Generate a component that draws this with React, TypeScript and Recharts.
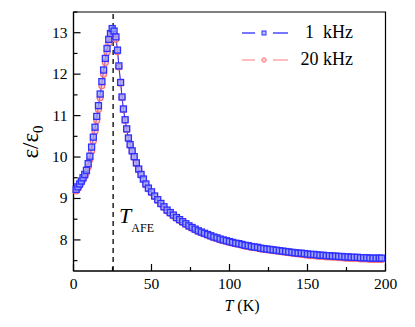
import React from 'react'
import {
  LineChart,
  Line,
  XAxis,
  YAxis,
  ReferenceLine,
  ReferenceArea,
} from 'recharts'

// temperature (K), shared by both frequencies
const temps = [
  1.7, 2.8, 3.9, 5.0, 6.1, 7.2, 8.3, 9.4, 10.5, 11.6, 12.7, 13.8, 14.9, 16.0, 17.1, 18.2, 19.3, 20.4, 21.5, 22.6, 23.7, 24.8,
  26.0, 27.2, 28.2, 29.1, 30.2, 31.1, 32.0, 33.1, 34.1, 35.2, 36.3, 37.6, 38.9, 40.3, 41.8, 43.3, 44.8, 46.4, 48.0,
  50, 52, 54, 56, 58, 60, 62, 64, 66, 68,
  70, 72, 74, 76, 78, 80, 82, 84, 86, 88,
  90, 92, 94, 96, 98, 100, 102, 104, 106, 108,
  110, 112, 114, 116, 118, 120, 122, 124, 126, 128,
  130, 132, 134, 136, 138, 140, 142, 144, 146, 148,
  150, 152, 154, 156, 158, 160, 162, 164, 166, 168,
  170, 172, 174, 176, 178, 180, 182, 184, 186, 188,
  190, 192, 194, 196, 197.5,
]

const eps1k = [
  9.22, 9.28, 9.35, 9.42, 9.5, 9.58, 9.68, 9.84, 10.02, 10.24, 10.48, 10.72, 10.98, 11.24, 11.52, 11.82, 12.1, 12.38, 12.62, 12.84, 12.98, 13.1,
  13.04, 12.9, 12.58, 12.2, 11.8, 11.45, 11.16, 10.9, 10.68, 10.46, 10.3, 10.15, 10.01, 9.86, 9.71, 9.58, 9.47, 9.35, 9.25,
  9.16, 9.06, 8.97, 8.88, 8.8, 8.72, 8.66, 8.6, 8.54, 8.49,
  8.44, 8.39, 8.34, 8.3, 8.26, 8.22, 8.19, 8.16, 8.13, 8.1,
  8.07, 8.05, 8.02, 8.0, 7.98, 7.96, 7.94, 7.92, 7.91, 7.89,
  7.87, 7.86, 7.84, 7.83, 7.82, 7.8, 7.79, 7.78, 7.77, 7.76,
  7.75, 7.74, 7.73, 7.72, 7.71, 7.7, 7.69, 7.68, 7.68, 7.67,
  7.66, 7.65, 7.65, 7.64, 7.63, 7.63, 7.62, 7.62, 7.61, 7.61,
  7.6, 7.6, 7.59, 7.59, 7.58, 7.58, 7.58, 7.57, 7.57, 7.57,
  7.56, 7.56, 7.56, 7.56, 7.56,
]

const eps20k = [
  9.18, 9.24, 9.31, 9.38, 9.45, 9.53, 9.62, 9.76, 9.94, 10.14, 10.38, 10.62, 10.88, 11.15, 11.43, 11.72, 12.0, 12.28, 12.52, 12.74, 12.9, 13.0,
  12.96, 12.84, 12.54, 12.17, 11.78, 11.43, 11.14, 10.88, 10.66, 10.44, 10.28, 10.13, 9.99, 9.84, 9.69, 9.56, 9.45, 9.33, 9.23,
  9.14, 9.04, 8.95, 8.86, 8.78, 8.7, 8.64, 8.58, 8.52, 8.47,
  8.42, 8.37, 8.32, 8.28, 8.24, 8.2, 8.17, 8.14, 8.11, 8.08,
  8.05, 8.03, 8.0, 7.98, 7.96, 7.94, 7.92, 7.9, 7.89, 7.87,
  7.85, 7.84, 7.82, 7.81, 7.8, 7.78, 7.77, 7.76, 7.75, 7.74,
  7.73, 7.72, 7.71, 7.7, 7.69, 7.68, 7.67, 7.66, 7.65, 7.64,
  7.63, 7.62, 7.62, 7.61, 7.6, 7.6, 7.59, 7.59, 7.58, 7.58,
  7.57, 7.57, 7.56, 7.56, 7.55, 7.55, 7.55, 7.54, 7.54, 7.54,
  7.53, 7.53, 7.53, 7.53, 7.53,
]

const xTicks = [0, 25, 50, 75, 100, 125, 150, 175, 200]
const yTicks = [7.5, 8, 8.5, 9, 9.5, 10, 10.5, 11, 11.5, 12, 12.5, 13, 13.5]
const tAFE = 25.4

const data = temps.map((T, i) => ({ T, f1: eps1k[i], f20: eps20k[i] }))

const FONT = '"Liberation Serif", "Times New Roman", serif'
const txt = { fontFamily: FONT }
const BLUE = '#2f2fff'
const BLUE_FILL = 'rgba(150,165,255,0.7)'
const RED = '#ff6e6e'
const RED_FILL = 'rgba(255,175,175,0.55)'

const XTick = (props: any) => {
  const { x, y, payload } = props
  const major = payload.value % 50 === 0
  return (
    <g>
      <line x1={x} x2={x} y1={y} y2={y - (major ? 7 : 4)} stroke="#000" strokeWidth={1.2} />
      {major && (
        <text x={x} y={y + 18} textAnchor="middle" fontSize={15.5} style={txt} fill="#000">
          {payload.value}
        </text>
      )}
    </g>
  )
}

const YTick = (props: any) => {
  const { x, y, payload } = props
  const major = Number.isInteger(payload.value)
  return (
    <g>
      <line x1={x} x2={x + (major ? 7 : 4)} y1={y} y2={y} stroke="#000" strokeWidth={1.2} />
      {major && (
        <text x={x - 6} y={y + 5} textAnchor="end" fontSize={15.5} style={txt} fill="#000">
          {payload.value}
        </text>
      )}
    </g>
  )
}

const Square = (props: any) => {
  const { cx, cy, index } = props
  if (cx == null || cy == null) return <g key={index} />
  return <rect key={index} x={cx - 3} y={cy - 3} width={6} height={6} fill={BLUE_FILL} stroke={BLUE} strokeWidth={1.3} />
}

const Circle = (props: any) => {
  const { cx, cy, index } = props
  if (cx == null || cy == null) return <g key={index} />
  return <circle key={index} cx={cx} cy={cy} r={3} fill={RED_FILL} stroke={RED} strokeWidth={1.1} />
}

const LegendBox = () => {
  const rows = [
    { label: '1  kHz', color: BLUE, marker: 'sq' },
    { label: '20 kHz', color: '#ff9a9a', marker: 'ci' },
  ]
  return (
    <div style={{ position: 'absolute', left: 242, top: 19, fontFamily: FONT, fontSize: 18, color: '#000' }}>
      {rows.map((r) => (
        <div key={r.label} style={{ display: 'flex', alignItems: 'center', height: 27 }}>
          <svg width={47} height={10}>
            <line x1={0} x2={13} y1={5} y2={5} stroke={r.color} strokeWidth={1.3} />
            <line x1={31} x2={46} y1={5} y2={5} stroke={r.color} strokeWidth={1.3} />
            {r.marker === 'sq' ? (
              <rect x={20} y={3} width={4} height={4} fill={BLUE_FILL} stroke={BLUE} strokeWidth={1} />
            ) : (
              <circle cx={22} cy={5} r={2.2} fill={RED_FILL} stroke={RED} strokeWidth={1} />
            )}
          </svg>
          <span style={{ width: 58, marginLeft: 6, textAlign: 'right', whiteSpace: 'pre', lineHeight: '27px' }}>{r.label}</span>
        </div>
      ))}
    </div>
  )
}

const AfeLabel = (props: any) => {
  const { viewBox } = props
  const x = viewBox.x + 6
  const y = viewBox.y + 211
  return (
    <text x={x} y={y} style={txt} fill="#000">
      <tspan fontSize={22} fontStyle="italic">T</tspan>
      <tspan fontSize={12} dy={9}>AFE</tspan>
    </text>
  )
}

const YTitle = () => (
  <text x={38} y={142} textAnchor="middle" style={txt} fontSize={23} fill="#000" transform="rotate(-90, 38, 142)">
    <tspan>ε/ε</tspan>
    <tspan fontSize={15} dy={5}>0</tspan>
  </text>
)

const XTitle = () => (
  <text x={242} y={311} textAnchor="middle" style={txt} fontSize={16} fill="#000">
    <tspan fontStyle="italic">T</tspan>
    <tspan> (K)</tspan>
  </text>
)

export default function App() {
  return (
    <div style={{ position: 'absolute', left: 0, top: 0, width: 415, height: 327, background: '#fff' }}>
      <LineChart width={415} height={327} data={data} margin={{ top: 12, right: 29.5, left: 13.5, bottom: 16 }}>
        <XAxis
          dataKey="T"
          type="number"
          domain={[0, 200]}
          ticks={xTicks}
          interval={0}
          height={40}
          tickSize={0}
          tickMargin={0}
          tickLine={false}
          axisLine={{ stroke: '#000', strokeWidth: 1.2 }}
          tick={XTick}
          label={{ content: () => <XTitle /> } as any}
        />
        <YAxis
          type="number"
          domain={[7.25, 13.5]}
          ticks={yTicks}
          interval={0}
          width={60}
          tickSize={0}
          tickMargin={0}
          tickLine={false}
          axisLine={{ stroke: '#000', strokeWidth: 1.2 }}
          tick={YTick}
          label={{ content: () => <YTitle /> } as any}
          allowDataOverflow
        />
        <ReferenceArea x1={0} x2={200} y1={7.25} y2={13.5} fill="none" stroke="#000" strokeWidth={1.2} />
        <ReferenceLine x={tAFE} stroke="#000" strokeWidth={1.3} strokeDasharray="5 4" label={{ content: AfeLabel } as any} />
        <Line
          dataKey="f20"
          type="linear"
          stroke="#ff8a8a"
          strokeWidth={1}
          dot={Circle}
          activeDot={false}
          isAnimationActive={false}
        />
        <Line
          dataKey="f1"
          type="linear"
          stroke={BLUE}
          strokeWidth={1}
          dot={Square}
          activeDot={false}
          isAnimationActive={false}
        />
      </LineChart>
      <LegendBox />
    </div>
  )
}
